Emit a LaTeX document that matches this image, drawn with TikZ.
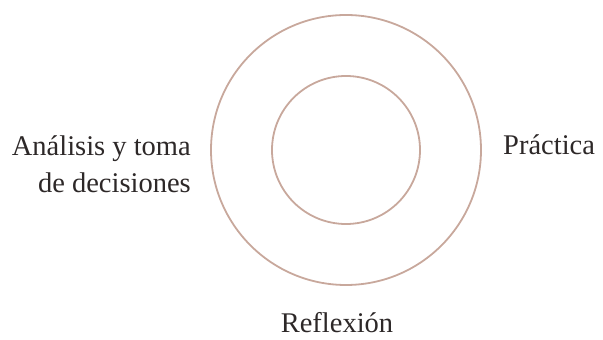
\documentclass[tikz,border=0pt]{standalone}
\usepackage{fontspec}
\setmainfont{Liberation Serif}
\definecolor{ring}{RGB}{200,168,156}
\definecolor{txt}{RGB}{45,40,40}
\tikzset{
  ringline/.style={draw=ring, line width=1.8pt},
  label/.style={inner sep=0pt, text=txt, font=\fontsize{28.5}{37}\selectfont}
}
\begin{document}
\begin{tikzpicture}[x=1pt,y=1pt]
  \useasboundingbox (0,0) rectangle (603,340);
  \coordinate (c) at (346,190);
  \draw[ringline] (c) circle[radius=135];
  \draw[ringline] (c) circle[radius=74];
  \node[label, align=right, anchor=east] (analisis) at (191,176) {Análisis y toma\\de decisiones};
  \node[label, anchor=base west] (practica) at (503,185) {Práctica};
  \node[label, anchor=base] (reflexion) at (337,7) {Reflexión};
\end{tikzpicture}
\end{document}
